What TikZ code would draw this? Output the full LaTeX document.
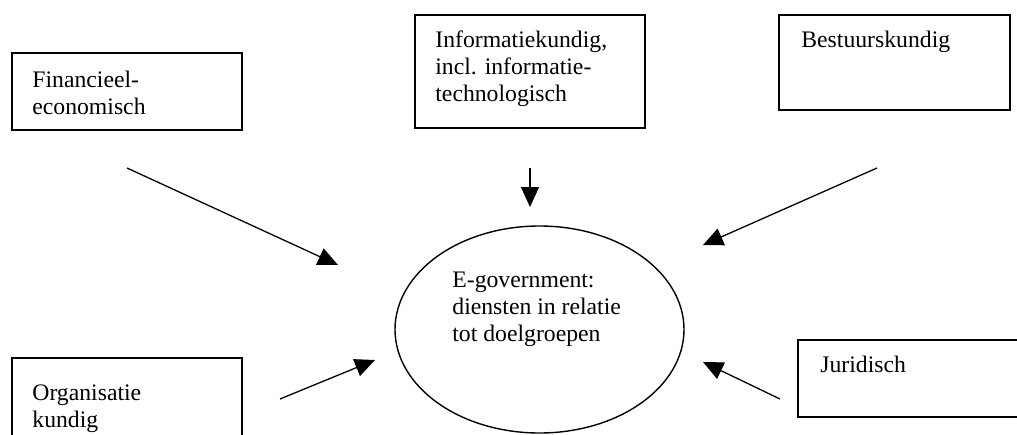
\documentclass[tikz,border=0pt]{standalone}
\usepackage{fontspec}
\setmainfont{Liberation Serif}
\usetikzlibrary{shapes.geometric,arrows.meta}
\newcommand\mylines[1]{\begin{tabular}[t]{@{}l@{}}#1\end{tabular}}
\tikzset{
  box/.style={draw, line width=0.9pt, inner sep=0pt},
  label/.style={anchor=base west, inner sep=0pt, font=\fontsize{11.85}{13.5}\selectfont},
  oval/.style={draw, ellipse, line width=0.7pt, inner sep=0pt},
  arr/.style={line width=0.65pt, -{Triangle[length=10pt,width=9pt]}}
}
\begin{document}
\begin{tikzpicture}[x=0.5pt, y=-0.5pt]
\clip (0,0) rectangle (1017,434);
% boxes
\node[box, minimum width=115pt, minimum height=38.5pt] (fin) at (127,91.5) {};
\node[box, minimum width=115pt, minimum height=56.5pt] (inf) at (530,71.5) {};
\node[box, minimum width=115.5pt, minimum height=47.5pt] (bes) at (894.5,62.5) {};
\node[box, minimum width=115pt, minimum height=41pt] (org) at (127,399) {};
\node[box, minimum width=113.5pt, minimum height=38.5pt] (jur) at (911.5,378.5) {};
\node[oval, minimum width=144.5pt, minimum height=103.5pt] (eg) at (539.5,329.5) {};
% texts
\node[label] (tfin) at (32,87) {\mylines{Financieel-\\economisch}};
\node[label] (tinf) at (435,47) {\mylines{Informatiekundig,\\incl. informatie-\\technologisch}};
\node[label] (tbes) at (801,47) {Bestuurskundig};
\node[label] (torg) at (32,400) {\mylines{Organisatie\\kundig}};
\node[label] (tjur) at (820,372) {Juridisch};
\node[label] (teg) at (452,287) {\mylines{E-government:\\diensten in relatie\\tot doelgroepen}};
% arrow end points
\coordinate (s1) at (127,168); \coordinate (e1) at (338,265);
\coordinate (s2) at (530,168); \coordinate (e2) at (530,207);
\coordinate (s3) at (877,168); \coordinate (e3) at (703,245);
\coordinate (s4) at (280,399); \coordinate (e4) at (375,360);
\coordinate (s5) at (780,399); \coordinate (e5) at (703,362);
\draw[arr] (s1) -- (e1);
\draw[arr] (s2) -- (e2);
\draw[arr] (s3) -- (e3);
\draw[arr] (s4) -- (e4);
\draw[arr] (s5) -- (e5);
\end{tikzpicture}
\end{document}
